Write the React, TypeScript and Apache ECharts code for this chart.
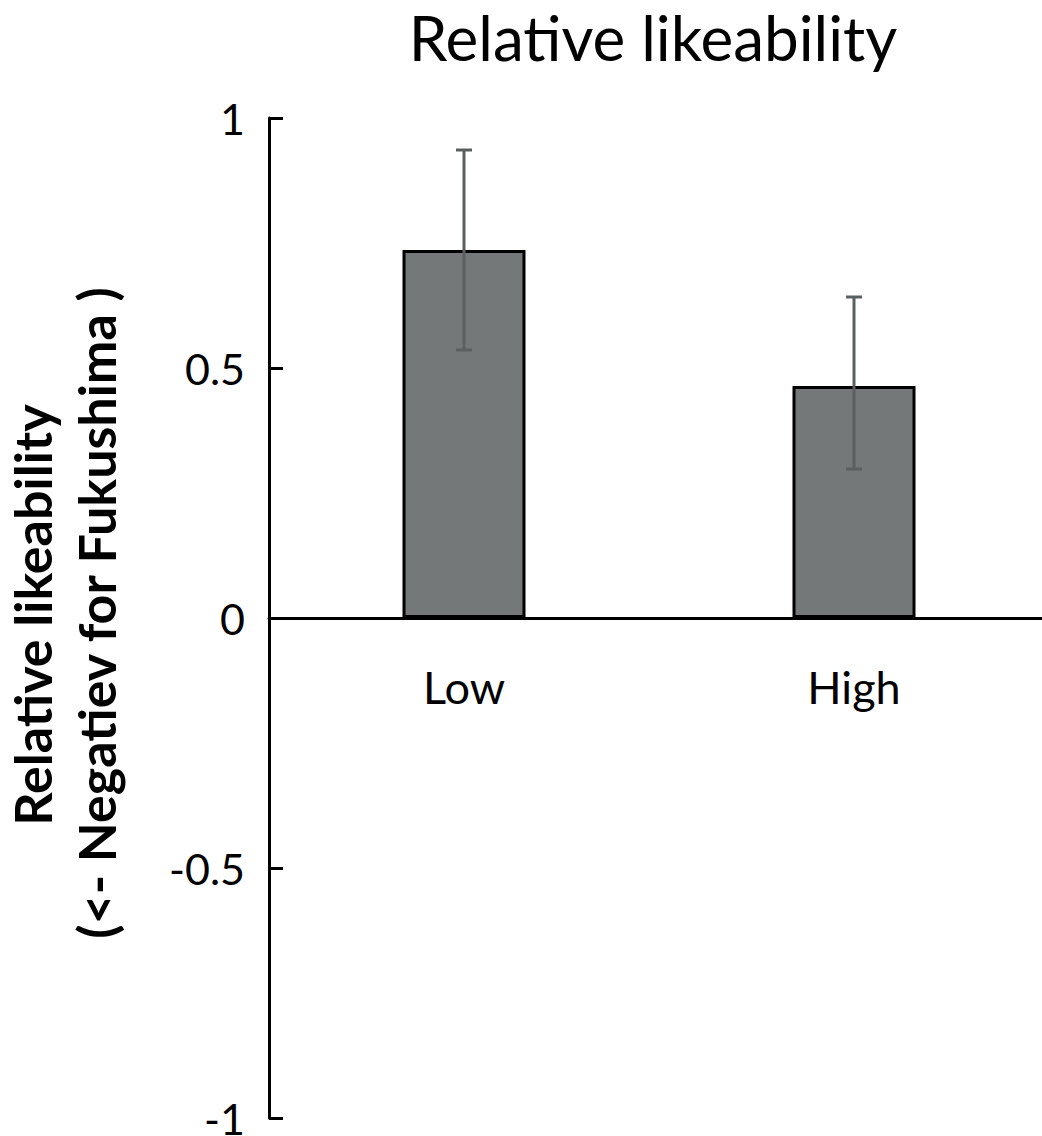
import React, { useEffect, useRef } from "react";
import * as echarts from "echarts";

const categories = ["Low", "High"];
const means = [0.736, 0.464];
const errLow = [0.536, 0.298];
const errHigh = [0.936, 0.642];
const yTicks = { min: -1, max: 1, interval: 0.5 };
const titleText = "Relative likeability";
const yNameLine1 = "Relative likeability";
const yNameLine2 = "(<- Negatiev for Fukushima )";

const FONT = "Lato";

export default function App() {
  const ref = useRef<HTMLDivElement>(null);
  useEffect(() => {
    if (!ref.current) return;
    const chart = echarts.init(ref.current, undefined, { renderer: "svg" });
    const errData = categories.map((c, i) => [i, errLow[i], errHigh[i]]);
    chart.setOption({
      animation: false,
      backgroundColor: "#ffffff",
      grid: { left: 269, top: 118, height: 1000, width: 780, outerBoundsMode: "none", containLabel: false },
      xAxis: {
        type: "category",
        data: categories,
        offset: -500,
        axisLine: { show: true, onZero: false, lineStyle: { color: "#000", width: 3 } },
        axisTick: { show: false },
        axisLabel: { color: "#000", fontSize: 45, fontFamily: FONT, margin: 46 },
        splitLine: { show: false },
      },
      yAxis: {
        type: "value",
        min: yTicks.min,
        max: yTicks.max,
        interval: yTicks.interval,
        axisLine: { show: true, lineStyle: { color: "#000", width: 3 } },
        axisTick: { show: true, inside: true, length: 14, lineStyle: { color: "#000", width: 3 } },
        axisLabel: { color: "#000", fontSize: 43, lineHeight: 34, fontFamily: FONT, margin: 24 },
        splitLine: { show: false },
      },
      graphic: [
        {
          type: "text",
          x: 653,
          y: 37,
          style: {
            text: titleText,
            fontSize: 62,
            fontFamily: FONT,
            fill: "#000",
            align: "center",
            verticalAlign: "middle",
          },
        },
        {
          type: "text",
          x: 32,
          y: 615,
          rotation: Math.PI / 2,
          style: {
            text: yNameLine1,
            fontSize: 52,
            fontWeight: "bold",
            fontFamily: FONT,
            fill: "#000",
            align: "center",
            verticalAlign: "middle",
          },
        },
        {
          type: "text",
          x: 96,
          y: 613,
          rotation: Math.PI / 2,
          style: {
            text: yNameLine2,
            fontSize: 52,
            fontWeight: "bold",
            fontFamily: FONT,
            fill: "#000",
            align: "center",
            verticalAlign: "middle",
          },
        },
      ],
      series: [
        {
          type: "bar",
          data: means,
          barWidth: 123,
          itemStyle: { color: "#747878", borderColor: "#000", borderWidth: 3 },
          z: 2,
        },
        {
          type: "custom",
          data: errData,
          z: 3,
          renderItem: (params: any, api: any) => {
            const x = api.value(0);
            const top = api.coord([x, api.value(2)]);
            const bot = api.coord([x, api.value(1)]);
            const hw = 8;
            const style = { stroke: "#5a5f60", lineWidth: 3 };
            return {
              type: "group",
              children: [
                { type: "line", shape: { x1: top[0], y1: top[1], x2: bot[0], y2: bot[1] }, style },
                { type: "line", shape: { x1: top[0] - hw, y1: top[1], x2: top[0] + hw, y2: top[1] }, style },
                { type: "line", shape: { x1: bot[0] - hw, y1: bot[1], x2: bot[0] + hw, y2: bot[1] }, style },
              ],
            };
          },
        },
      ],
    });
    return () => chart.dispose();
  }, []);
  return <div ref={ref} style={{ position: "absolute", left: 0, top: 0, width: 1042, height: 1136 }} />;
}
